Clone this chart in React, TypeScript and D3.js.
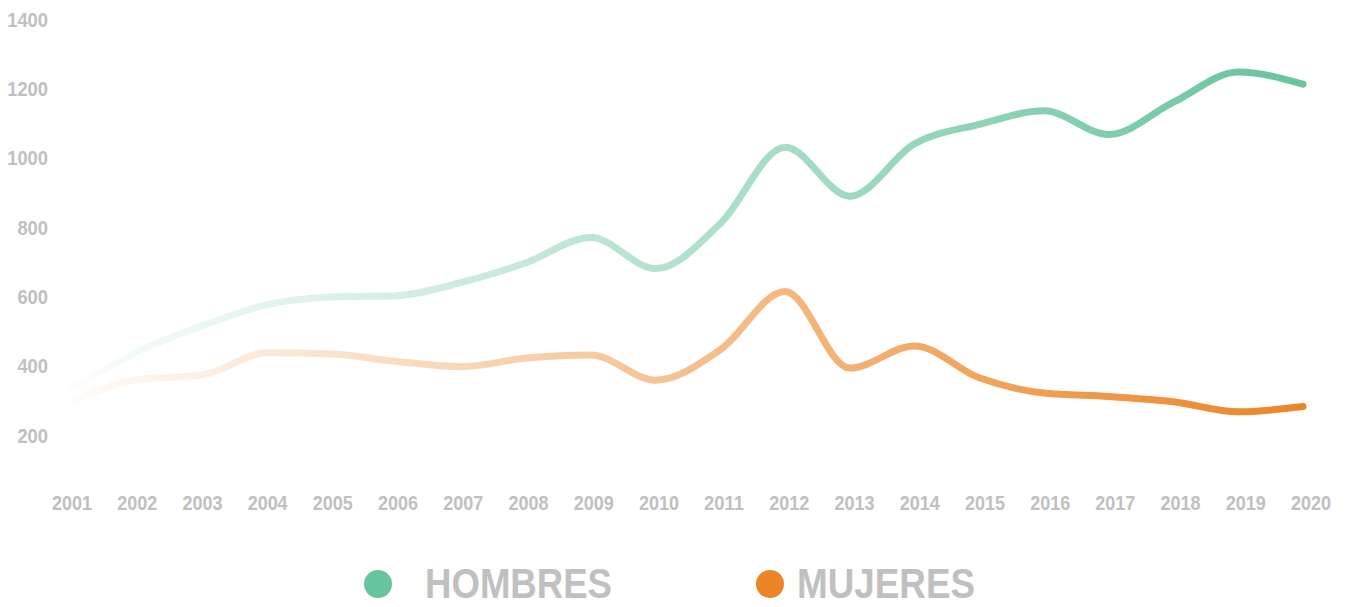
import React, { useEffect, useRef } from 'react';
import * as d3 from 'd3';

const years = d3.range(2001, 2021);
const hombres = [336, 440, 515, 576, 598, 602, 640, 697, 770, 680, 810, 1030, 889, 1040, 1096, 1135, 1067, 1160, 1247, 1212];
const mujeres = [297, 360, 373, 437, 434, 412, 397, 422, 431, 358, 446, 614, 393, 457, 365, 321, 311, 296, 267, 282];
const yTicks = [200, 400, 600, 800, 1000, 1200, 1400];

const series = [
  { key: 'hombres', label: 'HOMBRES', color: '#67c49d', values: hombres },
  { key: 'mujeres', label: 'MUJERES', color: '#ec8526', values: mujeres },
];

const W = 1349, H = 607;
const FONT = '"Liberation Sans", Arial, sans-serif';
const GREY = '#c0c0c0';

export default function App() {
  const svgRef = useRef<SVGSVGElement>(null);

  useEffect(() => {
    const svg = d3.select(svgRef.current);
    svg.selectAll('*').remove();

    const y = d3.scaleLinear().domain([200, 1400]).range([435, 19]);
    const xLine = d3.scaleLinear().domain([2001, 2020]).range([73, 1303]);
    const xLabel = d3.scaleLinear().domain([2001, 2020]).range([72, 1311]);

    // fading gradients, transparent on the left
    const defs = svg.append('defs');
    series.forEach(s => {
      const g = defs.append('linearGradient')
        .attr('id', 'grad-' + s.key)
        .attr('gradientUnits', 'userSpaceOnUse')
        .attr('x1', xLine(2001)).attr('x2', xLine(2020))
        .attr('y1', 0).attr('y2', 0);
      g.append('stop').attr('offset', '0%').attr('stop-color', s.color).attr('stop-opacity', 0.03);
      g.append('stop').attr('offset', '100%').attr('stop-color', s.color).attr('stop-opacity', 1);
    });

    // y labels (condensed via textLength)
    svg.selectAll('.ylabel').data(yTicks)
      .enter().append('text')
      .attr('class', 'ylabel')
      .attr('x', 48)
      .attr('y', d => y(d))
      .attr('dy', '0.36em')
      .attr('text-anchor', 'end')
      .attr('font-family', FONT)
      .attr('font-weight', 'bold')
      .attr('font-size', 21)
      .attr('fill', GREY)
      .attr('textLength', d => String(d).length * 10.2)
      .attr('lengthAdjust', 'spacingAndGlyphs')
      .text(d => d);

    // x labels
    svg.selectAll('.xlabel').data(years)
      .enter().append('text')
      .attr('class', 'xlabel')
      .attr('x', d => xLabel(d))
      .attr('y', 510)
      .attr('text-anchor', 'middle')
      .attr('font-family', FONT)
      .attr('font-weight', 'bold')
      .attr('font-size', 21)
      .attr('fill', GREY)
      .attr('textLength', 40)
      .attr('lengthAdjust', 'spacingAndGlyphs')
      .text(d => d);

    const line = d3.line<number>()
      .x((d, i) => xLine(years[i]))
      .y(d => y(d))
      .curve(d3.curveMonotoneX);

    svg.selectAll('.serie').data(series)
      .enter().append('path')
      .attr('class', 'serie')
      .attr('d', d => line(d.values))
      .attr('fill', 'none')
      .attr('stroke', d => 'url(#grad-' + d.key + ')')
      .attr('stroke-width', 7)
      .attr('stroke-linecap', 'round')
      .attr('stroke-linejoin', 'round');

    // legend
    const legendX = [378, 770];
    const textX = [425, 797];
    const textW = [187, 178];
    const leg = svg.selectAll('.legend').data(series)
      .enter().append('g')
      .attr('class', 'legend');
    leg.append('circle')
      .attr('cx', (d, i) => legendX[i])
      .attr('cy', 584)
      .attr('r', 14)
      .attr('fill', d => d.color);
    leg.append('text')
      .attr('x', (d, i) => textX[i])
      .attr('y', 598)
      .attr('font-family', FONT)
      .attr('font-weight', 'bold')
      .attr('font-size', 43)
      .attr('fill', GREY)
      .attr('textLength', (d, i) => textW[i])
      .attr('lengthAdjust', 'spacingAndGlyphs')
      .text(d => d.label);
  }, []);

  return (
    <svg ref={svgRef} width={W} height={H}
         style={{ position: 'absolute', left: 0, top: 0, background: '#fff' }} />
  );
}
